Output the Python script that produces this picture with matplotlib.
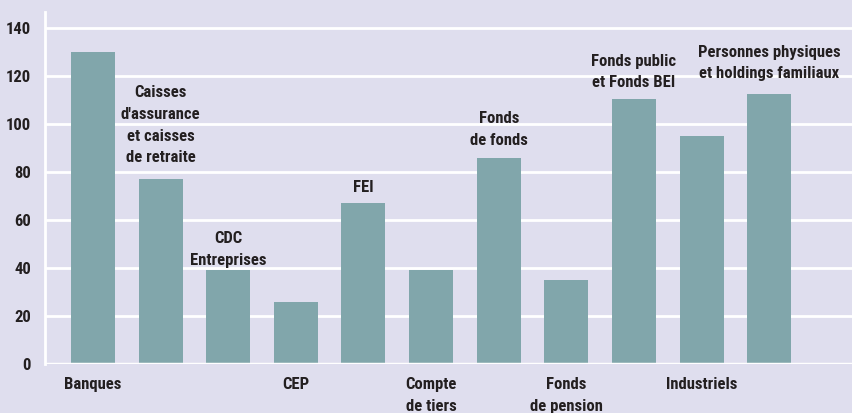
import matplotlib
matplotlib.use("Agg")
import matplotlib.pyplot as plt
from matplotlib import font_manager

# values
categories = ["Banques", "Caisses d'assurance et caisses de retraite", "CDC Entreprises",
              "CEP", "FEI", "Compte de tiers", "Fonds de fonds", "Fonds de pension",
              "Fonds public et Fonds BEI", "Industriels",
              "Personnes physiques et holdings familiaux"]
values = [130, 77, 39, 26, 67, 39, 86, 35, 110.5, 95, 112.5]

# how each category is written on the chart, and where (above the bar or under the axis)
labels = ["Banques", "Caisses\nd'assurance\net caisses\nde retraite", "CDC\nEntreprises",
          "CEP", "FEI", "Compte\nde tiers", "Fonds\nde fonds", "Fonds\nde pension",
          "Fonds public\net Fonds BEI", "Industriels",
          "Personnes physiques\net holdings familiaux"]
placement = ["below", "above", "above", "below", "above", "below", "above", "below",
             "above", "below", "above"]
yticks = [0, 20, 40, 60, 80, 100, 120, 140]

BG = "#dfdeee"
BAR = "#81a6ab"
INK = "#231f20"

installed = {f.name for f in font_manager.fontManager.ttflist}
family = [f for f in ["Roboto Condensed", "Liberation Sans Narrow", "Roboto", "Liberation Sans"]
          if f in installed] + ["DejaVu Sans"]
plt.rcParams["font.family"] = family
plt.rcParams["font.weight"] = "bold"

fig = plt.figure(figsize=(8.53, 4.13), dpi=100, facecolor=BG)
ax = fig.add_axes([45 / 853, 49 / 413, 1 - 45 / 853, 352 / 413])
ax.set_facecolor(BG)

x = list(range(len(values)))
ax.bar(x, values, width=0.65, color=BAR, zorder=2)

ax.set_xlim(-0.71, 11.24)
ax.set_ylim(0, 146.7)
ax.set_yticks(yticks)
ax.set_yticklabels([str(t) for t in yticks], fontsize=12, color=INK, fontweight="bold")
ax.set_xticks([])
ax.tick_params(axis="y", length=0, pad=10)
ax.grid(axis="y", color="white", linewidth=2, zorder=1)
ax.set_axisbelow(True)
for side in ["top", "right", "bottom"]:
    ax.spines[side].set_visible(False)
ax.spines["left"].set_color("white")
ax.spines["left"].set_linewidth(2)
ax.axhline(0, color="white", linewidth=2.5, zorder=3)

# gap (pixels) between the top of a bar and the centre of the last line of its label
gaps = {1: 21, 2: 10, 4: 16, 6: 17, 8: 16, 10: 20}
for i, (lab, where) in enumerate(zip(labels, placement)):
    if where == "above":
        nlines = lab.count("\n") + 1
        ax.annotate(lab, xy=(i, values[i]),
                    xytext=(0, gaps[i] + 11 * (nlines - 1)),
                    textcoords="offset pixels", ha="center", va="center",
                    fontsize=12, color=INK, fontweight="bold", linespacing=1.55)
    else:
        ax.annotate(lab, xy=(i, 0), xytext=(0, -13), textcoords="offset pixels",
                    ha="center", va="top", fontsize=12, color=INK,
                    fontweight="bold", linespacing=1.55, annotation_clip=False)

fig.savefig("out.png", dpi=100, facecolor=BG)
